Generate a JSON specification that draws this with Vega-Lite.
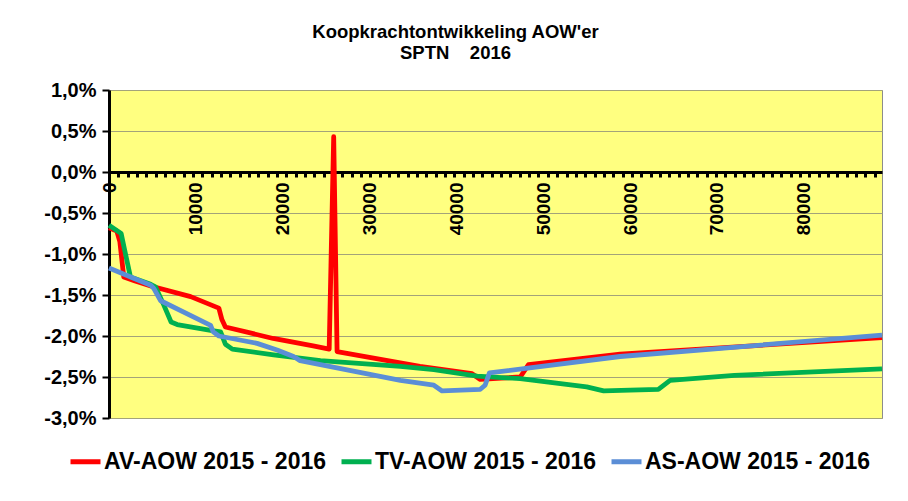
{
  "$schema": "https://vega.github.io/schema/vega-lite/v6.json",
  "autosize": {"type": "none"},
  "padding": {"left": 109, "top": 90, "right": 26, "bottom": 83},
  "width": 773,
  "height": 328,
  "background": "white",
  "title": {
    "text": ["Koopkrachtontwikkeling AOW'er", "SPTN\u00a0\u00a0\u00a0\u00a02016"],
    "font": "Liberation Sans",
    "fontSize": 18.5,
    "fontWeight": "bold",
    "color": "black",
    "anchor": "middle",
    "dx": -40,
    "lineHeight": 21,
    "offset": 18
  },
  "config": {
    "view": {"fill": "#FFFF80", "stroke": "#8C8C8C", "strokeWidth": 1},
    "font": "Liberation Sans"
  },
  "data": {
    "values": [
      {"series": "AV-AOW 2015 - 2016", "x": 0, "y": -0.68},
      {"series": "AV-AOW 2015 - 2016", "x": 900, "y": -0.72},
      {"series": "AV-AOW 2015 - 2016", "x": 1250, "y": -0.85},
      {"series": "AV-AOW 2015 - 2016", "x": 1700, "y": -1.28},
      {"series": "AV-AOW 2015 - 2016", "x": 3000, "y": -1.33},
      {"series": "AV-AOW 2015 - 2016", "x": 4800, "y": -1.39},
      {"series": "AV-AOW 2015 - 2016", "x": 9400, "y": -1.52},
      {"series": "AV-AOW 2015 - 2016", "x": 12650, "y": -1.66},
      {"series": "AV-AOW 2015 - 2016", "x": 13000, "y": -1.80},
      {"series": "AV-AOW 2015 - 2016", "x": 13400, "y": -1.89},
      {"series": "AV-AOW 2015 - 2016", "x": 18900, "y": -2.03},
      {"series": "AV-AOW 2015 - 2016", "x": 23500, "y": -2.12},
      {"series": "AV-AOW 2015 - 2016", "x": 25350, "y": -2.16},
      {"series": "AV-AOW 2015 - 2016", "x": 25870, "y": 0.43},
      {"series": "AV-AOW 2015 - 2016", "x": 26260, "y": -2.19},
      {"series": "AV-AOW 2015 - 2016", "x": 35800, "y": -2.37},
      {"series": "AV-AOW 2015 - 2016", "x": 41800, "y": -2.46},
      {"series": "AV-AOW 2015 - 2016", "x": 42750, "y": -2.53},
      {"series": "AV-AOW 2015 - 2016", "x": 47350, "y": -2.50},
      {"series": "AV-AOW 2015 - 2016", "x": 48300, "y": -2.35},
      {"series": "AV-AOW 2015 - 2016", "x": 58850, "y": -2.22},
      {"series": "AV-AOW 2015 - 2016", "x": 89000, "y": -2.02},
      {"series": "TV-AOW 2015 - 2016", "x": 0, "y": -0.65},
      {"series": "TV-AOW 2015 - 2016", "x": 1400, "y": -0.75},
      {"series": "TV-AOW 2015 - 2016", "x": 1800, "y": -0.95},
      {"series": "TV-AOW 2015 - 2016", "x": 2470, "y": -1.28},
      {"series": "TV-AOW 2015 - 2016", "x": 4800, "y": -1.37},
      {"series": "TV-AOW 2015 - 2016", "x": 5350, "y": -1.40},
      {"series": "TV-AOW 2015 - 2016", "x": 6300, "y": -1.62},
      {"series": "TV-AOW 2015 - 2016", "x": 7150, "y": -1.83},
      {"series": "TV-AOW 2015 - 2016", "x": 7850, "y": -1.86},
      {"series": "TV-AOW 2015 - 2016", "x": 11700, "y": -1.93},
      {"series": "TV-AOW 2015 - 2016", "x": 12850, "y": -1.95},
      {"series": "TV-AOW 2015 - 2016", "x": 13400, "y": -2.10},
      {"series": "TV-AOW 2015 - 2016", "x": 14200, "y": -2.16},
      {"series": "TV-AOW 2015 - 2016", "x": 18950, "y": -2.23},
      {"series": "TV-AOW 2015 - 2016", "x": 24350, "y": -2.30},
      {"series": "TV-AOW 2015 - 2016", "x": 33550, "y": -2.37},
      {"series": "TV-AOW 2015 - 2016", "x": 37400, "y": -2.41},
      {"series": "TV-AOW 2015 - 2016", "x": 42400, "y": -2.49},
      {"series": "TV-AOW 2015 - 2016", "x": 47350, "y": -2.52},
      {"series": "TV-AOW 2015 - 2016", "x": 55000, "y": -2.62},
      {"series": "TV-AOW 2015 - 2016", "x": 56950, "y": -2.67},
      {"series": "TV-AOW 2015 - 2016", "x": 60000, "y": -2.66},
      {"series": "TV-AOW 2015 - 2016", "x": 63250, "y": -2.65},
      {"series": "TV-AOW 2015 - 2016", "x": 64600, "y": -2.54},
      {"series": "TV-AOW 2015 - 2016", "x": 72000, "y": -2.48},
      {"series": "TV-AOW 2015 - 2016", "x": 89000, "y": -2.40},
      {"series": "AS-AOW 2015 - 2016", "x": 0, "y": -1.17},
      {"series": "AS-AOW 2015 - 2016", "x": 4800, "y": -1.38},
      {"series": "AS-AOW 2015 - 2016", "x": 5150, "y": -1.42},
      {"series": "AS-AOW 2015 - 2016", "x": 5950, "y": -1.57},
      {"series": "AS-AOW 2015 - 2016", "x": 11700, "y": -1.87},
      {"series": "AS-AOW 2015 - 2016", "x": 12000, "y": -1.95},
      {"series": "AS-AOW 2015 - 2016", "x": 12650, "y": -2.00},
      {"series": "AS-AOW 2015 - 2016", "x": 17050, "y": -2.09},
      {"series": "AS-AOW 2015 - 2016", "x": 19350, "y": -2.17},
      {"series": "AS-AOW 2015 - 2016", "x": 21250, "y": -2.25},
      {"series": "AS-AOW 2015 - 2016", "x": 22000, "y": -2.30},
      {"series": "AS-AOW 2015 - 2016", "x": 33550, "y": -2.54},
      {"series": "AS-AOW 2015 - 2016", "x": 37400, "y": -2.60},
      {"series": "AS-AOW 2015 - 2016", "x": 38350, "y": -2.67},
      {"series": "AS-AOW 2015 - 2016", "x": 42750, "y": -2.65},
      {"series": "AS-AOW 2015 - 2016", "x": 43300, "y": -2.60},
      {"series": "AS-AOW 2015 - 2016", "x": 43800, "y": -2.45},
      {"series": "AS-AOW 2015 - 2016", "x": 58850, "y": -2.25},
      {"series": "AS-AOW 2015 - 2016", "x": 89000, "y": -1.99}
    ]
  },
  "mark": {"type": "line", "strokeWidth": 4.8, "strokeJoin": "round", "strokeCap": "butt"},
  "encoding": {
    "x": {
      "field": "x",
      "type": "quantitative",
      "scale": {"domain": [0, 89000], "nice": false, "zero": false},
      "axis": {
        "orient": "bottom",
        "offset": -246,
        "title": null,
        "grid": false,
        "values": [0,1075,2150,3225,4300,5375,6450,7525,8600,9675,10000,10750,11825,12900,13975,15050,16125,17200,18275,19350,20000,20425,21500,22575,23650,24725,25800,26875,27950,29025,30000,30100,31175,32250,33325,34400,35475,36550,37625,38700,39775,40000,40850,41925,43000,44075,45150,46225,47300,48375,49450,50000,50525,51600,52675,53750,54825,55900,56975,58050,59125,60000,60200,61275,62350,63425,64500,65575,66650,67725,68800,69875,70000,70950,72025,73100,74175,75250,76325,77400,78475,79550,80000,80625,81700,82775,83850,84925,86000,87075,88150],
        "labelExpr": "datum.value % 10000 == 0 ? format(datum.value, 'd') : ''",
        "labelOverlap": false,
        "labelAngle": 270,
        "labelAlign": "right",
        "labelBaseline": "middle",
        "labelFont": "Liberation Sans",
        "labelFontSize": 19,
        "labelFontWeight": "bold",
        "labelColor": "black",
        "labelPadding": 5,
        "labelFlush": false,
        "domainColor": "black",
        "domainWidth": 3,
        "tickColor": "black",
        "tickWidth": 3,
        "tickSize": 5,
        "tickOpacity": {"condition": {"test": "datum.value % 10000 == 0 && datum.value > 0", "value": 0}, "value": 1}
      }
    },
    "y": {
      "field": "y",
      "type": "quantitative",
      "scale": {"domain": [-3, 1], "nice": false, "zero": false},
      "axis": {
        "title": null,
        "values": [-3, -2.5, -2, -1.5, -1, -0.5, 0, 0.5, 1],
        "labelExpr": "(datum.value < 0 ? '-' : '') + replace(format(abs(datum.value), '.1f'), '.', ',') + '%'",
        "labelFont": "Liberation Sans",
        "labelFontSize": 20,
        "labelFontWeight": "bold",
        "labelColor": "black",
        "labelPadding": 6,
        "labelOverlap": false,
        "labelFlush": false,
        "domainColor": "black",
        "domainWidth": 3,
        "tickColor": "black",
        "tickWidth": 2,
        "tickSize": 7,
        "grid": true,
        "gridColor": "#A3A37A",
        "gridWidth": 1.2
      }
    },
    "color": {
      "field": "series",
      "type": "nominal",
      "scale": {
        "domain": ["AV-AOW 2015 - 2016", "TV-AOW 2015 - 2016", "AS-AOW 2015 - 2016"],
        "range": ["#FF0000", "#00B050", "#5B8ED6"]
      },
      "legend": {
        "orient": "none",
        "legendX": -41,
        "legendY": 354,
        "direction": "horizontal",
        "title": null,
        "symbolType": "stroke",
        "symbolSize": 900,
        "symbolStrokeWidth": 5,
        "labelFont": "Liberation Sans",
        "labelFontSize": 23,
        "labelFontWeight": "bold",
        "labelColor": "black",
        "labelOffset": 1,
        "labelLimit": 400,
        "columnPadding": 4
      }
    }
  }
}
